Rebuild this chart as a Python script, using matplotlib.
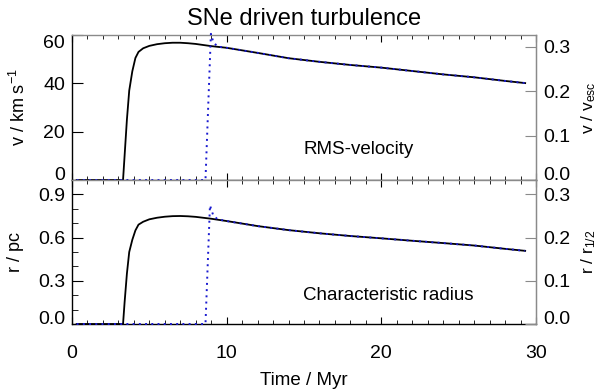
import matplotlib
matplotlib.use("Agg")
import matplotlib.pyplot as plt
from matplotlib.ticker import MultipleLocator, FormatStrFormatter

plt.rcParams['font.family'] = ['Liberation Sans', 'DejaVu Sans']
plt.rcParams['mathtext.fontset'] = 'custom'
plt.rcParams['mathtext.rm'] = 'Liberation Sans'
plt.rcParams['mathtext.it'] = 'Liberation Sans'
plt.rcParams['mathtext.default'] = 'regular'

# ---- data ----
time_black = [0.3, 3.3, 3.4, 3.55, 3.7, 3.9, 4.1, 4.3, 4.6, 5.0, 5.5, 6.0, 6.5, 7.0,
              7.5, 8.0, 9.0, 10, 12, 14, 16, 18, 20, 22, 24, 26, 28, 29.3]
vel_black = [0, 0, 10, 25, 37, 45, 50.5, 53, 54.5, 55.5, 56.2, 56.6, 56.8, 56.8,
             56.6, 56.3, 55.4, 54.7, 52.6, 50.4, 48.9, 47.6, 46.5, 45.1, 43.7, 42.5, 41.0, 40.1]
rad_black = [0, 0, 0.15, 0.35, 0.50, 0.585, 0.65, 0.69, 0.71, 0.727, 0.738, 0.745, 0.749, 0.75,
             0.748, 0.744, 0.731, 0.715, 0.68, 0.652, 0.630, 0.611, 0.595, 0.578, 0.562, 0.545, 0.522, 0.508]

time_blue = [0.3, 8.63, 8.98, 9.13, 9.4, 10, 12, 14, 16, 18, 20, 22, 24, 26, 28, 29.3]
vel_blue = [0, 0, 60.5, 57.2, 55.2, 54.7, 52.6, 50.4, 48.9, 47.6, 46.5, 45.1, 43.7, 42.5, 41.0, 40.1]
time_blue_r = [0.3, 8.63, 8.92, 9.13, 9.4, 10, 12, 14, 16, 18, 20, 22, 24, 26, 28, 29.3]
rad_blue = [0, 0, 0.824, 0.755, 0.728, 0.715, 0.68, 0.652, 0.630, 0.611, 0.595, 0.578, 0.562, 0.545, 0.522, 0.508]

v_ticks = [0, 20, 40, 60]
r_ticks = [0.0, 0.3, 0.6, 0.9]
right_ticks = [0.0, 0.1, 0.2, 0.3]
x_ticks = [0, 10, 20, 30]
v_esc = 184.0   # km/s  (60 km/s <-> 0.326)
r_half = 3.0    # pc

BLUE = '#1a1ad0'
GRAY = '#8a8a8a'
TICK_FS = 14
LAB_FS = 13

fig = plt.figure(figsize=(6.0, 3.91), dpi=100)
L, R = 72 / 600, 536 / 600
ax1 = fig.add_axes([L, 1 - 180 / 391, R - L, 145 / 391])
ax2 = fig.add_axes([L, 1 - 324 / 391, R - L, 144 / 391])


def style(ax, ylim, yticks, fmt, yminor=None):
    ax.set_xlim(0, 30)
    ax.set_ylim(*ylim)
    ax.set_xticks(x_ticks)
    ax.xaxis.set_minor_locator(MultipleLocator(1))
    ax.set_yticks(yticks)
    ax.yaxis.set_major_formatter(FormatStrFormatter(fmt))
    if yminor:
        ax.yaxis.set_minor_locator(MultipleLocator(yminor))
    ax.tick_params(axis='both', which='both', direction='in', top=True, right=False,
                   labelsize=TICK_FS, colors='black')
    ax.tick_params(axis='x', which='major', length=5, width=0.8, pad=15)
    ax.tick_params(axis='x', which='minor', length=3, width=0.6)
    ax.tick_params(axis='y', which='major', length=8, width=0.8, pad=5)
    ax.tick_params(axis='y', which='minor', length=4, width=0.6)
    ax.spines['right'].set_color(GRAY)
    ax.spines['top'].set_color(GRAY)
    for s in ax.spines.values():
        s.set_linewidth(1.0)


def clamp_labels(ax):
    labs = ax.get_yticklabels()
    labs[0].set_va('baseline')
    if ax.get_yticks()[-1] >= ax.get_ylim()[1] - 1e-9:
        labs[-1].set_va('top')


def right_axis(ax, top):
    ar = ax.twinx()
    ar.set_ylim(0, top)
    ar.set_yticks(right_ticks)
    ar.yaxis.set_major_formatter(FormatStrFormatter('%.1f'))
    ar.tick_params(axis='y', direction='in', length=8, width=0.8, color=GRAY,
                   labelsize=TICK_FS, pad=5)
    ar.spines['right'].set_color(GRAY)
    ar.spines['top'].set_visible(False)
    ar.spines['left'].set_visible(False)
    ar.spines['bottom'].set_visible(False)
    return ar


# Top panel
style(ax1, (0, 60), v_ticks, '%d')
ax1.tick_params(axis='x', labelbottom=False)
ax1.plot(time_black, vel_black, color='black', lw=1.3, clip_on=False, zorder=3)
ax1.plot(time_blue, vel_blue, color=BLUE, lw=1.4, ls=(0, (1, 2.2)), clip_on=False, zorder=4)
ax1.set_ylabel('v / km s$^{-1}$', fontsize=LAB_FS, labelpad=10)
ax1.text(0.498, 0.207, 'RMS-velocity', transform=ax1.transAxes, fontsize=13.5,
         ha='left', va='center')
ar1 = right_axis(ax1, 60 / v_esc)
ar1.set_ylabel('v / v$_{esc}$', fontsize=12.5, labelpad=7)
ax1.set_title('SNe driven turbulence', fontsize=17, pad=7)

# Bottom panel
style(ax2, (0, 1.0), r_ticks, '%.1f', yminor=0.1)
ax2.plot(time_black, rad_black, color='black', lw=1.3, clip_on=False, zorder=3)
ax2.plot(time_blue_r, rad_blue, color=BLUE, lw=1.4, ls=(0, (1, 2.2)), clip_on=False, zorder=4)
ax2.set_ylabel('r / pc', fontsize=LAB_FS, labelpad=10)
ax2.set_xlabel('Time / Myr', fontsize=LAB_FS + 0.5, labelpad=7)
ax2.text(0.498, 0.2, 'Characteristic radius', transform=ax2.transAxes, fontsize=13.5,
         ha='left', va='center')
ar2 = right_axis(ax2, 1.0 / r_half)
ar2.set_ylabel('r / r$_{1/2}$', fontsize=12.5, labelpad=7)

for a in (ax1, ax2, ar1, ar2):
    clamp_labels(a)

fig.savefig('out.png', dpi=100)
